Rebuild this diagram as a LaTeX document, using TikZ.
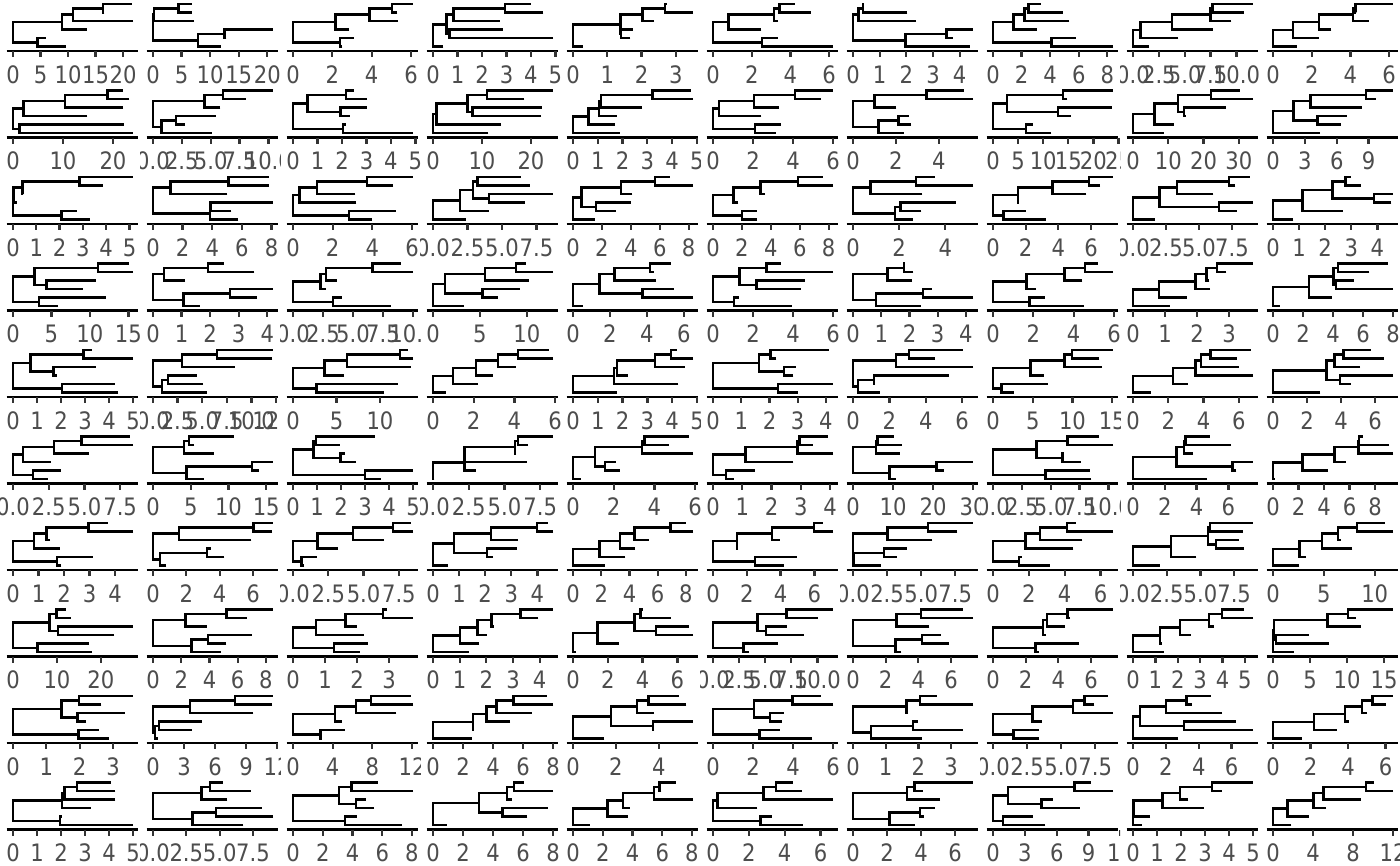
\documentclass[tikz,border=0pt]{standalone}
\usepackage{fontspec}
\newfontfamily\axfont[FakeStretch=0.88]{DejaVu Sans}
\definecolor{grtext}{HTML}{4D4D4D}
\definecolor{grtick}{HTML}{333333}
\tikzset{
  treeline/.style={line width=2.5pt, black, line join=miter},
  axisline/.style={line width=2.7pt, black},
  tickline/.style={line width=2.3pt, grtick},
  ticklab/.style={anchor=base, inner sep=0pt, text=grtext, font=\axfont\fontsize{24}{24}\selectfont}
}
\newif\ifTdraw
\def\gMax{0}
\def\Tnode#1#2#3{%
  \ifnum#1=#2\relax
    \xdef\gY{#1}%
    \ifTdraw\else
      \pgfmathparse{max(\gMax,#3)}\xdef\gMax{\pgfmathresult}%
    \fi
  \else
    \begingroup
      \pgfmathtruncatemacro\Tn{#2-#1+1}%
      \pgfmathtruncatemacro\Tna{random(1,\Tn-1)}%
      \pgfmathtruncatemacro\Tsm{min(\Tna,\Tn-\Tna)}%
      \pgfmathtruncatemacro\Tk{#1+\Tsm-1}%
      \pgfmathtruncatemacro\Tkp{\Tk+1}%
      \pgfmathsetmacro\Tda{#3+rnd}%
      \pgfmathsetmacro\Tdb{#3+rnd}%
      \edef\Tnext{\noexpand\Tnode{#1}{\Tk}{\Tda}}\Tnext
      \let\Tya\gY
      \edef\Tnext{\noexpand\Tnode{\Tkp}{#2}{\Tdb}}\Tnext
      \let\Tyb\gY
      \ifTdraw
        \pgfmathsetmacro\Tx{13+\Tsc*#3}%
        \pgfmathsetmacro\Txa{13+\Tsc*\Tda}%
        \pgfmathsetmacro\Txb{13+\Tsc*\Tdb}%
        \pgfmathsetmacro\Tpa{46.7-8.54*(\Tya-1)}%
        \pgfmathsetmacro\Tpb{46.7-8.54*(\Tyb-1)}%
        \draw[treeline] (\Txa,\Tpa) -- (\Tx,\Tpa) -- (\Tx,\Tpb) -- (\Txb,\Tpb);
      \fi
      \pgfmathsetmacro\Tm{(\Tya+\Tyb)/2}%
      \xdef\gY{\Tm}%
    \endgroup
  \fi}
\newcommand\Tpanel[5]{%
  \begin{scope}[shift={(140*#1,86.5*#2)}]
    \clip (0,0) rectangle (140,86.5);
    \pgfmathsetseed{#3}\gdef\gMax{0}\Tdrawfalse
    \Tnode{1}{6}{0}%
    \pgfmathsetmacro\Tsc{120/\gMax}%
    \pgfmathsetseed{#3}\Tdrawtrue
    \Tnode{1}{6}{0}%
    \draw[axisline] (6.5,51) -- (137.5,51);
    \foreach \v/\l in #5 {
      \pgfmathsetmacro\tx{13+120*\v/#4}
      \draw[tickline] (\tx,51) -- (\tx,57);
      \node[ticklab] at (\tx,83) {\l};
    }
  \end{scope}}
\def\TkThree{0/0,1/1,2/2,3/3}
\def\TkFour{0/0,1/1,2/2,3/3,4/4}
\def\TkFive{0/0,1/1,2/2,3/3,4/4,5/5}
\def\TkEvFour{0/0,2/2,4/4}
\def\TkEvSix{0/0,2/2,4/4,6/6}
\def\TkEvEight{0/0,2/2,4/4,6/6,8/8}
\def\TkHalfSev{0/0.0,2.5/2.5,5/5.0,7.5/7.5}
\def\TkHalfTen{0/0.0,2.5/2.5,5/5.0,7.5/7.5,10/10.0}
\def\TkHalfTwelve{0/0.0,2.5/2.5,5/5.0,7.5/7.5,10/10.0,12.5/12.5}
\def\TkFiveTen{0/0,5/5,10/10}
\def\TkFiveFift{0/0,5/5,10/10,15/15}
\def\TkFiveTwenty{0/0,5/5,10/10,15/15,20/20}
\def\TkFiveTwfive{0/0,5/5,10/10,15/15,20/20,25/25}
\def\TkTenTwenty{0/0,10/10,20/20}
\def\TkTenThirty{0/0,10/10,20/20,30/30}
\def\TkThreeNine{0/0,3/3,6/6,9/9}
\def\TkThreeTwelve{0/0,3/3,6/6,9/9,12/12}
\def\TkFourTwelve{0/0,4/4,8/8,12/12}
\begin{document}
\begin{tikzpicture}[x=1pt,y=-1pt]
\fill[white] (0,0) rectangle (1400,865);
\useasboundingbox (0,0) rectangle (1400,865);
% row 0
\Tpanel{0}{0}{101}{21.8}{\TkFiveTwenty}
\Tpanel{1}{0}{102}{21.0}{\TkFiveTwenty}
\Tpanel{2}{0}{103}{6.1}{\TkEvSix}
\Tpanel{3}{0}{104}{4.9}{\TkFive}
\Tpanel{4}{0}{105}{3.5}{\TkThree}
\Tpanel{5}{0}{106}{6.2}{\TkEvSix}
\Tpanel{6}{0}{107}{4.5}{\TkFour}
\Tpanel{7}{0}{108}{8.4}{\TkEvEight}
\Tpanel{8}{0}{109}{11.6}{\TkHalfTen}
\Tpanel{9}{0}{110}{6.2}{\TkEvSix}
% row 1
\Tpanel{0}{1}{201}{24}{\TkTenTwenty}
\Tpanel{1}{1}{202}{10.4}{\TkHalfTen}
\Tpanel{2}{1}{203}{4.9}{\TkFive}
\Tpanel{3}{1}{204}{24.5}{\TkTenTwenty}
\Tpanel{4}{1}{205}{4.85}{\TkFive}
\Tpanel{5}{1}{206}{6.0}{\TkEvSix}
\Tpanel{6}{1}{207}{5.6}{\TkEvFour}
\Tpanel{7}{1}{208}{23.9}{\TkFiveTwfive}
\Tpanel{8}{1}{209}{34}{\TkTenThirty}
\Tpanel{9}{1}{210}{11.3}{\TkThreeNine}
% row 2
\Tpanel{0}{2}{301}{5.15}{\TkFive}
\Tpanel{1}{2}{302}{8.1}{\TkEvEight}
\Tpanel{2}{2}{303}{6.05}{\TkEvSix}
\Tpanel{3}{2}{304}{8.7}{\TkHalfSev}
\Tpanel{4}{2}{305}{8.3}{\TkEvEight}
\Tpanel{5}{2}{306}{8.3}{\TkEvEight}
\Tpanel{6}{2}{307}{5.2}{\TkEvFour}
\Tpanel{7}{2}{308}{7.35}{\TkEvSix}
\Tpanel{8}{2}{309}{9.1}{\TkHalfSev}
\Tpanel{9}{2}{310}{4.6}{\TkFour}
% row 3
\Tpanel{0}{3}{401}{15.6}{\TkFiveFift}
\Tpanel{1}{3}{402}{4.2}{\TkFour}
\Tpanel{2}{3}{403}{10}{\TkHalfTen}
\Tpanel{3}{3}{404}{12.8}{\TkFiveTen}
\Tpanel{4}{3}{405}{6.5}{\TkEvSix}
\Tpanel{5}{3}{406}{6.0}{\TkEvSix}
\Tpanel{6}{3}{407}{4.25}{\TkFour}
\Tpanel{7}{3}{408}{5.95}{\TkEvSix}
\Tpanel{8}{3}{409}{3.75}{\TkThree}
\Tpanel{9}{3}{410}{8.0}{\TkEvEight}
% row 4
\Tpanel{0}{4}{501}{5.0}{\TkFive}
\Tpanel{1}{4}{502}{12.2}{\TkHalfTwelve}
\Tpanel{2}{4}{503}{13.8}{\TkFiveTen}
\Tpanel{3}{4}{504}{5.9}{\TkEvSix}
\Tpanel{4}{4}{505}{4.84}{\TkFive}
\Tpanel{5}{4}{506}{4.25}{\TkFour}
\Tpanel{6}{4}{507}{6.6}{\TkEvSix}
\Tpanel{7}{4}{508}{15.1}{\TkFiveFift}
\Tpanel{8}{4}{509}{6.8}{\TkEvSix}
\Tpanel{9}{4}{510}{7.06}{\TkEvSix}
% row 5
\Tpanel{0}{5}{601}{8.4}{\TkHalfSev}
\Tpanel{1}{5}{602}{15.9}{\TkFiveFift}
\Tpanel{2}{5}{603}{5.0}{\TkFive}
\Tpanel{3}{5}{604}{8.4}{\TkHalfSev}
\Tpanel{4}{5}{605}{5.9}{\TkEvSix}
\Tpanel{5}{5}{606}{4.1}{\TkFour}
\Tpanel{6}{5}{607}{30}{\TkTenThirty}
\Tpanel{7}{5}{608}{10.4}{\TkHalfTen}
\Tpanel{8}{5}{609}{7.55}{\TkEvSix}
\Tpanel{9}{5}{610}{9.4}{\TkEvEight}
% row 6
\Tpanel{0}{6}{701}{4.7}{\TkFour}
\Tpanel{1}{6}{702}{7.2}{\TkEvSix}
\Tpanel{2}{6}{703}{8.5}{\TkHalfSev}
\Tpanel{3}{6}{704}{4.6}{\TkFour}
\Tpanel{4}{6}{705}{8.5}{\TkEvEight}
\Tpanel{5}{6}{706}{7.1}{\TkEvSix}
\Tpanel{6}{6}{707}{8.8}{\TkHalfSev}
\Tpanel{7}{6}{708}{6.7}{\TkEvSix}
\Tpanel{8}{6}{709}{8.9}{\TkHalfSev}
\Tpanel{9}{6}{710}{11.8}{\TkFiveTen}
% row 7
\Tpanel{0}{7}{801}{27.3}{\TkTenTwenty}
\Tpanel{1}{7}{802}{8.5}{\TkEvEight}
\Tpanel{2}{7}{803}{3.75}{\TkThree}
\Tpanel{3}{7}{804}{4.5}{\TkFour}
\Tpanel{4}{7}{805}{6.9}{\TkEvSix}
\Tpanel{5}{7}{806}{11.5}{\TkHalfTen}
\Tpanel{6}{7}{807}{7.35}{\TkEvSix}
\Tpanel{7}{7}{808}{7.35}{\TkEvSix}
\Tpanel{8}{7}{809}{5.36}{\TkFive}
\Tpanel{9}{7}{810}{16.2}{\TkFiveFift}
% row 8
\Tpanel{0}{8}{901}{3.6}{\TkThree}
\Tpanel{1}{8}{902}{11.6}{\TkThreeTwelve}
\Tpanel{2}{8}{903}{12.1}{\TkFourTwelve}
\Tpanel{3}{8}{904}{8.0}{\TkEvEight}
\Tpanel{4}{8}{905}{5.6}{\TkEvFour}
\Tpanel{5}{8}{906}{6.0}{\TkEvSix}
\Tpanel{6}{8}{907}{3.67}{\TkThree}
\Tpanel{7}{8}{908}{8.8}{\TkHalfSev}
\Tpanel{8}{8}{909}{7.3}{\TkEvSix}
\Tpanel{9}{8}{910}{6.4}{\TkEvSix}
% row 9
\Tpanel{0}{9}{1001}{5.0}{\TkFive}
\Tpanel{1}{9}{1002}{9.0}{\TkHalfSev}
\Tpanel{2}{9}{1003}{8.07}{\TkEvEight}
\Tpanel{3}{9}{1004}{8.0}{\TkEvEight}
\Tpanel{4}{9}{1005}{8.07}{\TkEvEight}
\Tpanel{5}{9}{1006}{6.7}{\TkEvSix}
\Tpanel{6}{9}{1007}{7.06}{\TkEvSix}
\Tpanel{7}{9}{1008}{11.3}{\TkThreeTwelve}
\Tpanel{8}{9}{1009}{5.0}{\TkFive}
\Tpanel{9}{9}{1010}{12}{\TkFourTwelve}
\end{tikzpicture}
\end{document}
